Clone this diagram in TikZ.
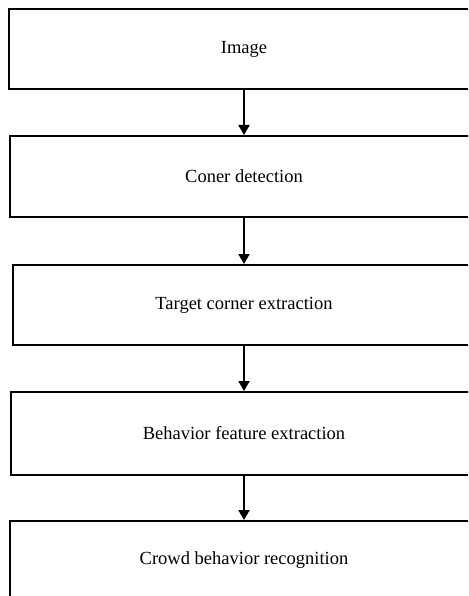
\documentclass[tikz,border=0pt]{standalone}
\usepackage{fontspec}
\setmainfont{Liberation Serif}
\usetikzlibrary{arrows.meta}
\begin{document}
\begin{tikzpicture}[x=1pt,y=-1pt,
  stepbox/.style={draw=black,line width=2pt,fill=white,inner sep=0pt,
    font=\fontsize{18.5}{22}\selectfont},
  arr/.style={line width=2pt,-{Triangle[width=11pt,length=10pt]}}]
\useasboundingbox (0,0) rectangle (468,596);
\clip (0,0) rectangle (468,596);
\node[stepbox,minimum width=470pt,minimum height=80pt] (b1) at (244,49) {Image};
\node[stepbox,minimum width=468pt,minimum height=81pt] (b2) at (244,176.5) {Coner detection};
\node[stepbox,minimum width=462pt,minimum height=80pt] (b3) at (244,305) {Target corner extraction};
\node[stepbox,minimum width=466pt,minimum height=83pt] (b4) at (244,433.5) {Behavior feature extraction};
\node[stepbox,minimum width=468pt,minimum height=78pt] (b5) at (244,560) {Crowd behavior recognition};
\draw[arr] (b1) -- (b2);
\draw[arr] (b2) -- (b3);
\draw[arr] (b3) -- (b4);
\draw[arr] (b4) -- (b5);
\end{tikzpicture}
\end{document}
